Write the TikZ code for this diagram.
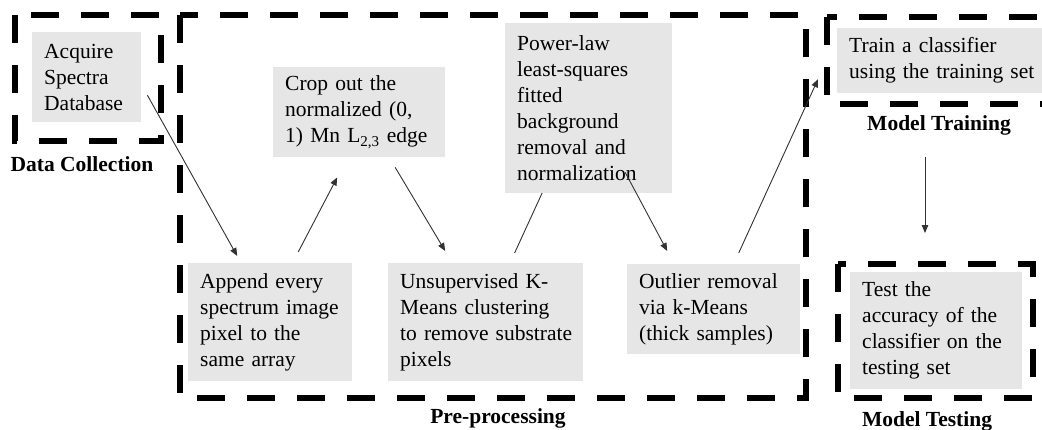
\documentclass[tikz,border=0pt]{standalone}
\usepackage{fontspec}
\setmainfont{Liberation Serif}
\usetikzlibrary{arrows.meta,calc}
\definecolor{boxgray}{RGB}{230,230,230}
\definecolor{linkgray}{RGB}{50,50,50}
\newcommand{\bodysize}{\fontsize{21.5}{26}\selectfont\hyphenpenalty=10000\exhyphenpenalty=10000\hbadness=10000\hfuzz=40pt}
\newcommand{\labelsize}{\fontsize{21.5}{25}\selectfont\bfseries}
\begin{document}
\begin{tikzpicture}[x=1pt,y=-1pt,
  procbox/.style={fill=boxgray, anchor=north west, inner xsep=12pt, inner ysep=0pt,
    align=left, font=\bodysize},
  stagebox/.style={draw=black, line width=6pt, dash pattern=on 28pt off 22pt},
  stagelabel/.style={anchor=base, inner sep=0pt, font=\labelsize},
  link/.style={draw=linkgray, line width=0.9pt, -{Triangle[length=8pt,width=6.5pt]}}]
\path[use as bounding box, clip] (0,0) rectangle (1042,429);
\fill[white] (0,0) rectangle (1042,429);

% stage frames
\draw[stagebox] (15,15) rectangle (161,141);
\draw[stagebox] (180,15) rectangle (806,398);
\draw[stagebox] (827,17) rectangle (1070,104);
\draw[stagebox] (838,264) rectangle (1033,398);

% stage labels
\node[stagelabel] (lcollect) at (82,171) {Data Collection};
\node[stagelabel] (lprep) at (498,423) {Pre-processing};
\node[stagelabel] (ltrain) at (939,130) {Model Training};
\node[stagelabel] (ltest) at (927,426) {Model Testing};
\coordinate (testtop) at (925,233);

% link whose head sits under the fitting box
\coordinate (unsupout) at (514.6,253);
\coordinate (powerin) at (549,178);

% processing steps (each line kept whole with ties)
\node[procbox, text width=85pt, minimum height=90pt] (acq) at (32,32)
  {Acquire\\Spectra\\Database};
\node[procbox, text width=148pt, minimum height=90pt] (crop) at (273,67)
  {Crop~out~the\\normalized~(0,\\1)~Mn~L\textsubscript{2,3}~edge};
\draw[link] (unsupout) -- (powerin);
\node[procbox, text width=143pt, minimum height=170pt] (power) at (505,23)
  {Power-law\\least-squares\\fitted\\background\\removal~and\\normalization};
\node[procbox, text width=140pt, minimum height=118pt] (append) at (188,263)
  {Append~every\\spectrum~image\\pixel~to~the\\same~array};
\node[procbox, text width=171pt, minimum height=118pt] (unsup) at (388,263)
  {Unsupervised~K-\\Means~clustering\\to~remove~substrate\\pixels};
\node[procbox, text width=149pt, minimum height=90pt] (outlier) at (627,264)
  {Outlier~removal\\via~k-Means\\(thick~samples)};
\node[procbox, text width=199pt, minimum height=65pt] (train) at (837,28)
  {Train~a~classifier\\using~the~training~set};
\node[procbox, text width=148pt, minimum height=117pt] (test) at (850,272)
  {Test~the\\accuracy~of~the\\classifier~on~the\\testing~set};

% links between steps
\draw[link] ($(acq.east)+(6,18)$) -- ($(append.north)+(-33,-7)$);
\draw[link] ($(append.north)+(28,-11)$) -- ($(crop.south)+(-22,20)$);
\draw[link] ($(crop.south)+(36,10)$) -- ($(unsup.north)+(-40.5,-12)$);
\draw[link] ($(power.south)+(36.5,-21)$) -- ($(outlier.north)+(-46.5,-13)$);
\draw[link] ($(outlier.north)+(25,-11)$) -- ($(train.west)+(-19,18.5)$);
\draw[link] ($(ltrain.south)+(-14,22)$) -- (testtop);
\end{tikzpicture}
\end{document}
